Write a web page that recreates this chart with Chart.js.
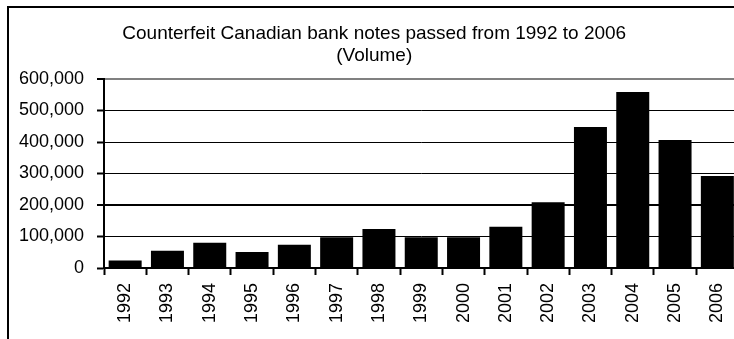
<!DOCTYPE html>
<html>
<head>
<meta charset="utf-8">
<script src="https://cdn.jsdelivr.net/npm/chart.js@4/dist/chart.umd.min.js"></script>
<style>
  html, body { margin: 0; padding: 0; overflow: hidden; background: #fff; }
  #wrap { position: relative; width: 734px; height: 339px; overflow: hidden; }
  #frame { position: absolute; left: 7px; top: 6px; width: 800px; height: 400px;
           border-left: 2px solid #000; border-top: 2px solid #000; }
  #canvas1 { position: absolute; left: 0; top: 0; }
</style>
</head>
<body>
<div id="wrap">
  <div id="frame"></div>
  <canvas id="canvas1" width="750" height="339"></canvas>
</div>
<script>
// data
const years = ["1992", "1993", "1994", "1995", "1996", "1997", "1998", "1999",
               "2000", "2001", "2002", "2003", "2004", "2005", "2006"];
const volume = [24000, 55000, 80000, 51000, 74000, 98000, 124000, 98000,
                98000, 131000, 209000, 448000, 559000, 406000, 292000];
const titleLines = ["Counterfeit Canadian bank notes passed from 1992 to 2006", "(Volume)"];
const yMax = 600000;
const yStep = 100000;

Chart.defaults.font.family = "'Liberation Sans', Arial, sans-serif";
Chart.defaults.color = '#000';

const data = {
    labels: years,
    datasets: [
        {
            label: 'Volume',
            data: volume,
            backgroundColor: '#000',
            borderWidth: 0,
            barPercentage: 0.78,
            categoryPercentage: 1
        }
    ]
};

const config = {
    type: 'bar',
    data: data,
    options: {
        responsive: false,
        animation: false,
        devicePixelRatio: 1,
        layout: { padding: { left: 10, right: 11.5, top: 0, bottom: 0 } },
        plugins: {
            legend: { display: false },
            tooltip: { enabled: false },
            title: {
                display: true,
                text: titleLines,
                color: '#000',
                font: { size: 19, weight: 'normal', lineHeight: 1.15 },
                padding: { top: 23, bottom: 12.3 }
            }
        },
        scales: {
            x: {
                grid: {
                    offset: true,
                    drawOnChartArea: false,
                    tickLength: 7,
                    tickColor: '#000',
                    tickWidth: 2
                },
                border: { color: '#000', width: 2 },
                ticks: {
                    minRotation: 90,
                    maxRotation: 90,
                    padding: 8,
                    autoSkip: false,
                    color: '#000',
                    font: { size: 18 }
                },
                afterFit: function (scale) { scale.height = 71; }
            },
            y: {
                min: 0,
                max: yMax,
                grid: {
                    color: ctx => ctx.tick && ctx.tick.value === yMax ? '#808080' : '#000',
                    lineWidth: ctx => ctx.tick && (ctx.tick.value === yMax || ctx.tick.value === 200000) ? 2 : 1,
                    tickLength: 7,
                    tickColor: '#000',
                    tickWidth: 2
                },
                border: { color: '#000', width: 2 },
                ticks: {
                    stepSize: yStep,
                    padding: 13,
                    color: '#000',
                    font: { size: 18 },
                    callback: v => v.toLocaleString('en-US')
                },
                afterFit: function (scale) { scale.width = 94; }
            }
        }
    }
};

var canvas = document.getElementById('canvas1');
const chart = new Chart(canvas, config);
</script>
</body>
</html>
